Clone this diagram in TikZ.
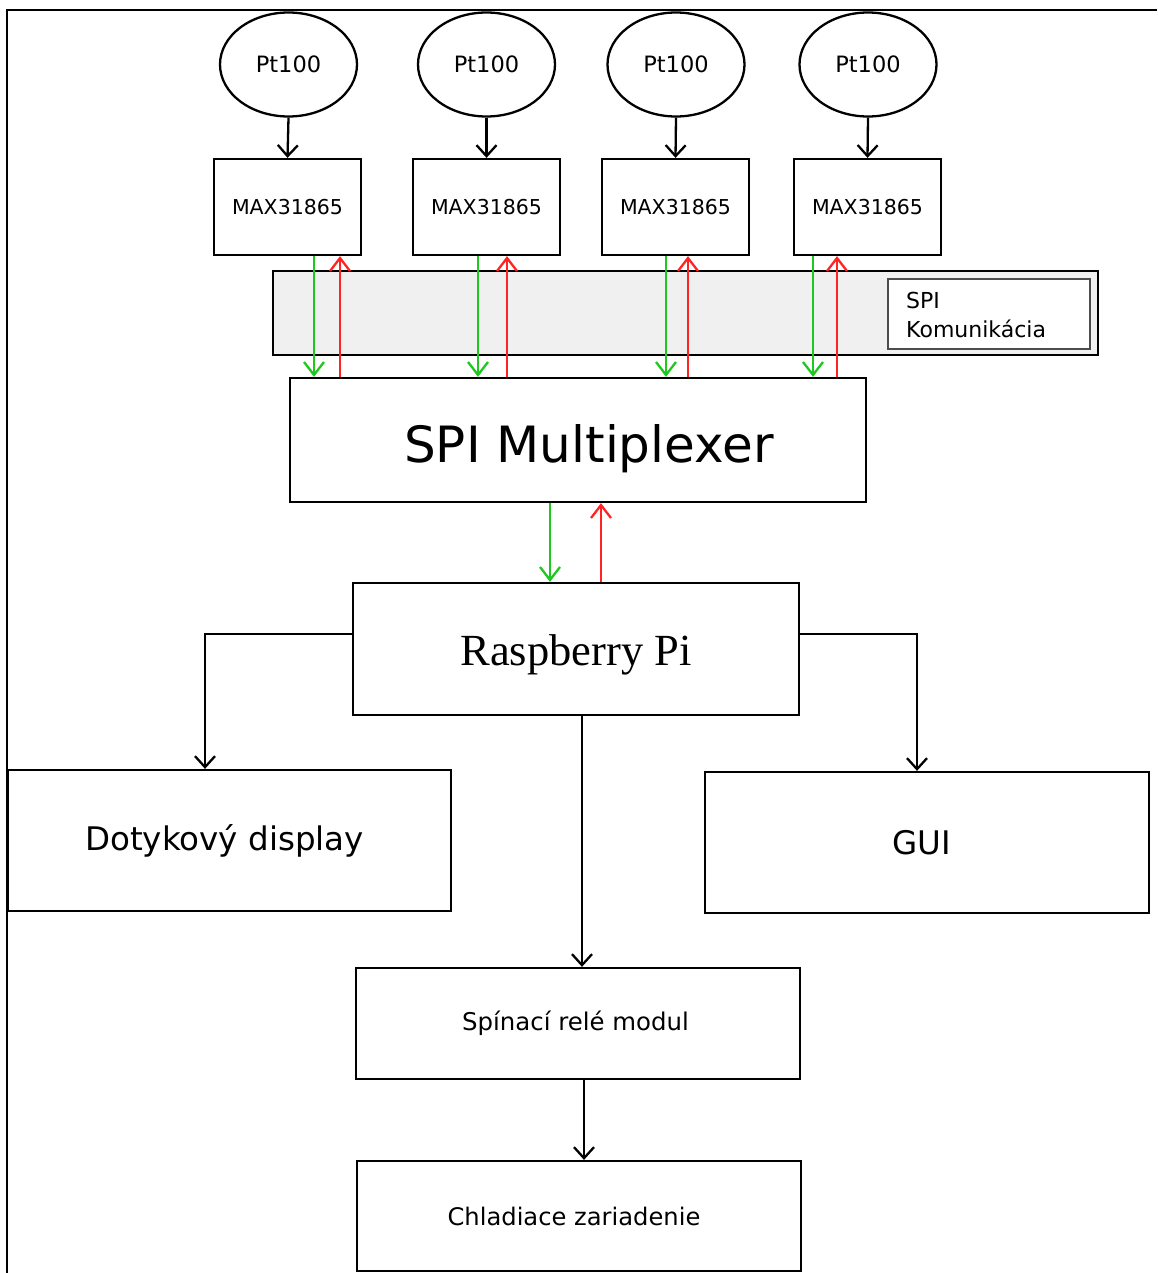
\documentclass[tikz,border=0pt]{standalone}
\usepackage{fontspec}
\setmainfont{DejaVu Sans}
\newfontfamily\serifface{Liberation Serif}
\usetikzlibrary{arrows.meta,shapes.geometric}
\definecolor{sgreen}{RGB}{30,200,30}
\definecolor{sred}{RGB}{255,35,35}
\definecolor{bandfill}{RGB}{240,240,240}
\begin{document}
\begin{tikzpicture}[x=1pt,y=-1pt,
  box/.style={draw=black,line width=2.3pt,fill=white,inner sep=0pt,rectangle},
  sensor/.style={draw=black,line width=2.3pt,ellipse,inner sep=0pt,minimum width=137pt,minimum height=104pt,font=\fontsize{22.5}{26}\selectfont},
  maxbox/.style={box,minimum width=147pt,minimum height=96pt,font=\fontsize{20.5}{24}\selectfont},
  arr/.style={draw=black,line width=2.3pt,-{Straight Barb[length=11pt,width=20pt,line width=2.3pt]}},
  garr/.style={draw=sgreen,line width=2.3pt,-{Straight Barb[length=13pt,width=20pt,line width=2.3pt]}},
  rarr/.style={draw=sred,line width=2.3pt,-{Straight Barb[length=13pt,width=20pt,line width=2.3pt]}}
]
\useasboundingbox (0,0) rectangle (1157,1273);
% outer frame
\draw[line width=2.3pt] (7,1273) -- (7,10) -- (1157,10);

% sensors
\node[sensor] (p1) at (288.5,64.5) {Pt100};
\node[sensor] (p2) at (486.5,64.5) {Pt100};
\node[sensor] (p3) at (676,64.5) {Pt100};
\node[sensor] (p4) at (868,64.5) {Pt100};

% MAX boxes
\node[maxbox] (m1) at (287.5,207) {MAX31865};
\node[maxbox] (m2) at (486.5,207) {MAX31865};
\node[maxbox] (m3) at (675.5,207) {MAX31865};
\node[maxbox] (m4) at (867.5,207) {MAX31865};

\foreach \i in {1,2,3,4} {\draw[arr] (p\i.south) -- (m\i.north);}

% SPI band
\node[box,fill=bandfill,minimum width=825pt,minimum height=84pt] (band) at (685.5,313) {};
\node[draw=black!70,line width=2.3pt,fill=white,minimum width=202pt,minimum height=70pt,inner sep=0pt] (spibox) at (989,314) {};
\node[anchor=west,align=left,inner sep=0pt,font=\fontsize{22}{29}\selectfont] (spitxt) at (906,315) {SPI\\Komunikácia};

% multiplexer
\node[box,minimum width=576pt,minimum height=124pt,font=\fontsize{50}{58}\selectfont] (mux) at (578,440) {\hspace*{22pt}\raisebox{-22pt}[0pt][0pt]{SPI Multiplexer}};

% SPI arrows
\draw[garr] ([xshift=26.5pt]m1.south) -- ([xshift=-264pt]mux.north);
\draw[rarr] ([xshift=-238pt]mux.north) -- ([xshift=52.5pt]m1.south);
\draw[garr] ([xshift=-8.5pt]m2.south) -- ([xshift=-100pt]mux.north);
\draw[rarr] ([xshift=-71pt]mux.north) -- ([xshift=20.5pt]m2.south);
\draw[garr] ([xshift=-9.5pt]m3.south) -- ([xshift=88pt]mux.north);
\draw[rarr] ([xshift=110pt]mux.north) -- ([xshift=12.5pt]m3.south);
\draw[garr] ([xshift=-54.5pt]m4.south) -- ([xshift=235pt]mux.north);
\draw[rarr] ([xshift=259pt]mux.north) -- ([xshift=-30.5pt]m4.south);

% Raspberry Pi
\node[box,minimum width=446pt,minimum height=132pt,font=\serifface\fontsize{44.5}{50}\selectfont] (rpi) at (576,649) {\raisebox{-16pt}[0pt][0pt]{Raspberry Pi}};
\draw[garr] ([xshift=-28pt]mux.south) -- ([xshift=-26pt]rpi.north);
\draw[rarr] ([xshift=25pt]rpi.north) -- ([xshift=23pt]mux.south);

% outputs
\node[box,minimum width=443pt,minimum height=141pt,font=\fontsize{32.5}{36}\selectfont] (disp) at (229.5,840.5) {\hspace*{-10pt}Dotykový display};
\node[box,minimum width=444pt,minimum height=141pt,font=\fontsize{32.5}{36}\selectfont] (gui) at (927,842.5) {\hspace*{-10pt}GUI};
\node[box,minimum width=444pt,minimum height=111pt,font=\fontsize{24.4}{28}\selectfont] (relay) at (578,1023.5) {\hspace*{-5pt}Spínací relé modul};
\node[box,minimum width=444pt,minimum height=110pt,font=\fontsize{24.2}{28}\selectfont] (chlad) at (579,1216) {\hspace*{-10pt}Chladiace zariadenie};

\draw[arr] ([yshift=15pt]rpi.west) -| ([xshift=-24.5pt]disp.north);
\draw[arr] ([yshift=15pt]rpi.east) -| ([xshift=-10pt]gui.north);
\draw[arr] ([xshift=6pt]rpi.south) -- ([xshift=4pt]relay.north);
\draw[arr] ([xshift=6pt]relay.south) -- ([xshift=5pt]chlad.north);
\end{tikzpicture}
\end{document}
